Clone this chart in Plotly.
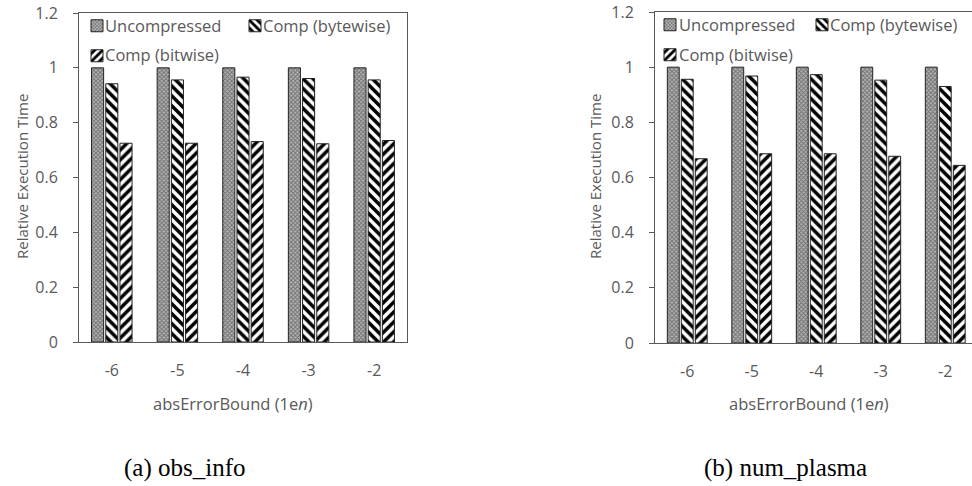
import plotly.graph_objects as go

# Error-bound exponents (x categories)
bounds = ["-6", "-5", "-4", "-3", "-2"]

# Relative execution time, obs_info
obs_uncompressed = [1.0, 1.0, 1.0, 1.0, 1.0]
obs_bytewise = [0.942, 0.956, 0.966, 0.961, 0.956]
obs_bitwise = [0.725, 0.725, 0.731, 0.723, 0.735]

# Relative execution time, num_plasma
plasma_uncompressed = [1.0, 1.0, 1.0, 1.0, 1.0]
plasma_bytewise = [0.956, 0.968, 0.973, 0.953, 0.930]
plasma_bitwise = [0.668, 0.686, 0.686, 0.677, 0.644]

series_names = ["Uncompressed", "Comp (bytewise)", "Comp (bitwise)"]
y_ticks = [0, 0.2, 0.4, 0.6, 0.8, 1.0, 1.2]
y_tick_text = ["0", "0.2", "0.4", "0.6", "0.8", "1", "1.2"]

GRAY = "#595959"
FONT = "Open Sans"
W, H = 972, 486

patterns = [
    dict(shape="x", fgcolor="#6e6e6e", bgcolor="#b4b4b4", size=3, solidity=0.5, fillmode="replace"),
    dict(shape="\\", fgcolor="#000000", bgcolor="#ffffff", size=7, solidity=0.5, fillmode="replace"),
    dict(shape="/", fgcolor="#000000", bgcolor="#ffffff", size=7, solidity=0.5, fillmode="replace"),
]


def px_x(p):
    return p / W


def px_y(p):
    return 1 - p / H


# Legend swatch centres and label starts (pixels) for each panel's entries
legend_slots = {
    "left": [(96, 25, 105), (254, 25, 263), (96, 55, 105)],
    "right": [(669, 24, 679), (821, 24, 830), (669, 54, 679)],
}

fig = go.Figure()
panels = [
    ("x", "y", "left", [obs_uncompressed, obs_bytewise, obs_bitwise]),
    ("x2", "y2", "right", [plasma_uncompressed, plasma_bytewise, plasma_bitwise]),
]

legend_layout = {}
label_annotations = []
legend_index = 1
for xa, ya, side, values in panels:
    for name, vals, pat, slot in zip(series_names, values, patterns, legend_slots[side]):
        lg = "legend" if legend_index == 1 else f"legend{legend_index}"
        fig.add_trace(go.Bar(
            x=bounds, y=vals, name=" ", xaxis=xa, yaxis=ya,
            marker=dict(color="#ffffff", pattern=pat, line=dict(color="#222222", width=1)),
            hovertemplate=name + ": %{y}<extra></extra>",
            legend=lg, showlegend=True,
        ))
        cx, cy, tx = slot
        legend_layout[lg] = dict(
            x=px_x(cx - 19), y=px_y(cy + 1), xanchor="left", yanchor="middle",
            orientation="h", bgcolor="rgba(0,0,0,0)", itemwidth=30,
            font=dict(family=FONT, size=15, color=GRAY),
        )
        label_annotations.append(dict(
            text=name, x=px_x(tx - 2), y=px_y(cy), xanchor="left", yanchor="middle",
            font=dict(family=FONT, size=16.5, color=GRAY),
        ))
        legend_index += 1

axis_font = dict(family=FONT, size=16, color=GRAY)

fig.update_layout(
    width=W, height=H, margin=dict(l=0, r=0, t=0, b=0, autoexpand=False),
    paper_bgcolor="white", plot_bgcolor="white",
    barmode="group", bargap=0.35, bargroupgap=0.15,
    xaxis=dict(domain=[px_x(79), px_x(407)], anchor="y", range=[-0.5, 4.5],
               showline=True, mirror=True, linecolor=GRAY, linewidth=1,
               ticks="", ticklabelstandoff=14, tickfont=axis_font, showgrid=False),
    yaxis=dict(domain=[px_y(342), px_y(13)], anchor="x", range=[0, 1.2],
               tickvals=y_ticks, ticktext=y_tick_text,
               showline=True, mirror=True, linecolor=GRAY, linewidth=1,
               ticks="outside", ticklen=5, tickcolor=GRAY, ticklabelstandoff=12,
               tickfont=axis_font, showgrid=False, zeroline=False),
    xaxis2=dict(domain=[px_x(655), 1.0], anchor="y2", range=[-0.5, -0.5 + (972 - 655) / 64.5],
                showline=True, mirror=True, linecolor=GRAY, linewidth=1,
                ticks="", ticklabelstandoff=14, tickfont=axis_font, showgrid=False),
    yaxis2=dict(domain=[px_y(343), px_y(12)], anchor="x2", range=[0, 1.2],
                tickvals=y_ticks, ticktext=y_tick_text,
                showline=True, mirror=False, linecolor=GRAY, linewidth=1,
                ticks="outside", ticklen=5, tickcolor=GRAY, ticklabelstandoff=12,
                tickfont=axis_font, showgrid=False, zeroline=False),
    showlegend=True,
    **legend_layout,
)

title_font = dict(family=FONT, size=15, color=GRAY)
xtitle_font = dict(family=FONT, size=16.5, color=GRAY)
caption_font = dict(family="Liberation Serif", size=25, color="#000000")
annotations = [
    dict(text="Relative Execution Time", x=px_x(22), y=px_y(177), textangle=-90, font=title_font),
    dict(text="Relative Execution Time", x=px_x(595), y=px_y(177), textangle=-90, font=title_font),
    dict(text="absErrorBound (1e<i>n</i>)", x=px_x(233), y=px_y(403), font=xtitle_font),
    dict(text="absErrorBound (1e<i>n</i>)", x=px_x(809), y=px_y(403), font=xtitle_font),
    dict(text="(a) obs_info", x=px_x(185), y=px_y(468), font=caption_font),
    dict(text="(b) num_plasma", x=px_x(785), y=px_y(468), font=caption_font),
]
for a in annotations:
    fig.add_annotation(xref="paper", yref="paper", showarrow=False,
                       xanchor="center", yanchor="middle", **a)
for a in label_annotations:
    fig.add_annotation(xref="paper", yref="paper", showarrow=False, **a)

fig.write_html("out.html")
